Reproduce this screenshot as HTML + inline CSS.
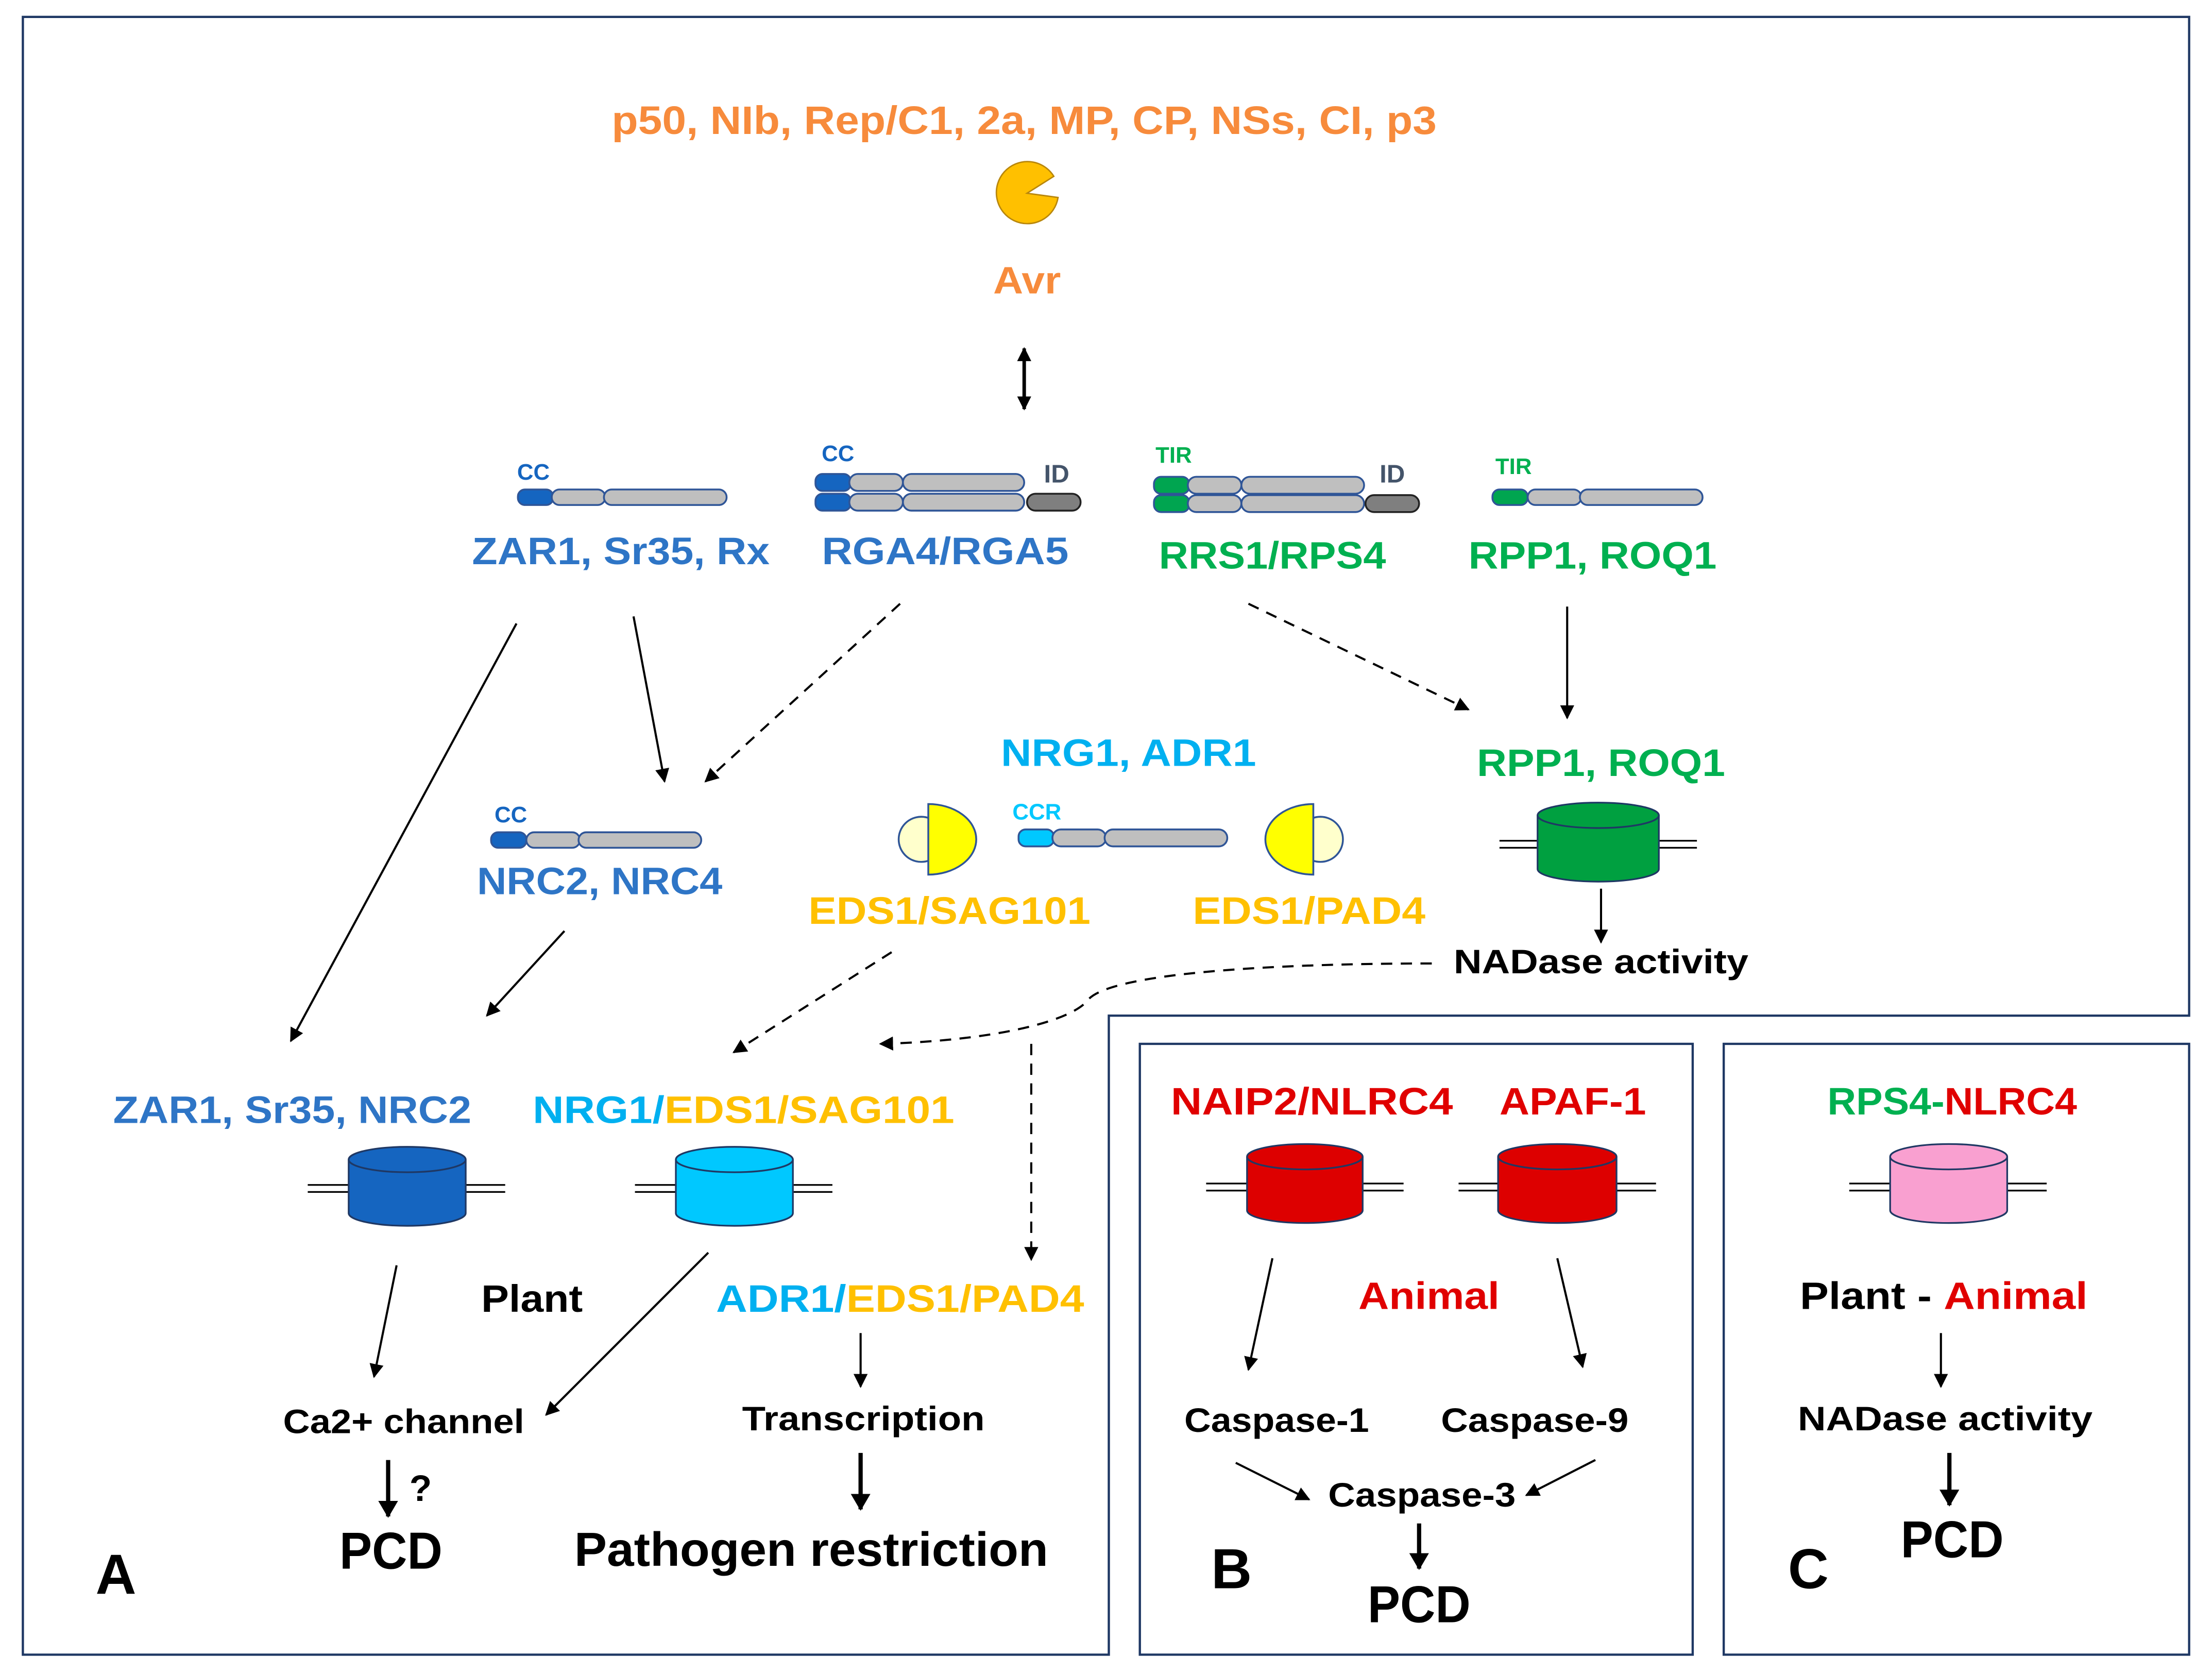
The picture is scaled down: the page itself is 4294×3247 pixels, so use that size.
<!DOCTYPE html>
<html><head><meta charset="utf-8"><style>
html,body{margin:0;padding:0;background:#fff}
svg{display:block}
text{font-family:"Liberation Sans",sans-serif;font-weight:bold;text-anchor:middle}
</style></head><body>
<svg width="4294" height="3247" viewBox="0 0 1568 1186" xmlns="http://www.w3.org/2000/svg">
<defs>
<marker id="ah" markerWidth="10" markerHeight="10" refX="9" refY="5" orient="auto" markerUnits="userSpaceOnUse"><path d="M0,0 L10,5 L0,10 z" fill="#000"/></marker>
<marker id="ahs" markerWidth="10" markerHeight="10" refX="9" refY="5" orient="auto-start-reverse" markerUnits="userSpaceOnUse"><path d="M0,0 L10,5 L0,10 z" fill="#000"/></marker>
<marker id="ahb" markerWidth="14" markerHeight="14" refX="11" refY="7" orient="auto" markerUnits="userSpaceOnUse"><path d="M0,0 L12,7 L0,14 z" fill="#000"/></marker>
</defs>
<rect width="1568" height="1186" fill="#fff"/>
<path d="M16,12 H1552 V720 H786 V1173 H16 Z" fill="none" stroke="#1f3864" stroke-width="1.6"/>
<rect x="808" y="740" width="392" height="433" fill="none" stroke="#1f3864" stroke-width="1.6"/>
<rect x="1222" y="740" width="330" height="433" fill="none" stroke="#1f3864" stroke-width="1.6"/>

<text x="726" y="95" font-size="28" fill="#f78b3c" textLength="585" lengthAdjust="spacingAndGlyphs">p50, NIb, Rep/C1, 2a, MP, CP, NSs, CI, p3</text>
<path d="M728,137 L747,125 A22,22 0 1 0 750,140 Z" fill="#ffc000" stroke="#b8860b" stroke-width="1"/>
<text x="728" y="208" font-size="27" fill="#f78b3c" textLength="48" lengthAdjust="spacingAndGlyphs">Avr</text>
<line x1="726" y1="247" x2="726" y2="290" stroke="#000" stroke-width="2.5" marker-start="url(#ahs)" marker-end="url(#ahs)"/>

<g stroke="#2f5597" stroke-width="1.3">
<rect x="367" y="347" width="25" height="11" rx="5" fill="#1565c0"/>
<rect x="391" y="347" width="38" height="11" rx="5.5" fill="#bfbfbf"/>
<rect x="428" y="347" width="87" height="11" rx="5.5" fill="#bfbfbf"/>
<rect x="578" y="336" width="25" height="12" rx="5" fill="#1565c0"/>
<rect x="602" y="336" width="38" height="12" rx="6" fill="#bfbfbf"/>
<rect x="640" y="336" width="86" height="12" rx="6" fill="#bfbfbf"/>
<rect x="578" y="350" width="25" height="12" rx="5" fill="#1565c0"/>
<rect x="602" y="350" width="38" height="12" rx="6" fill="#bfbfbf"/>
<rect x="640" y="350" width="86" height="12" rx="6" fill="#bfbfbf"/>
<rect x="728" y="350" width="38" height="12" rx="6" fill="#7f7f7f" stroke="#222"/>
<rect x="818" y="338" width="25" height="12" rx="5" fill="#00a550"/>
<rect x="842" y="338" width="38" height="12" rx="6" fill="#bfbfbf"/>
<rect x="880" y="338" width="87" height="12" rx="6" fill="#bfbfbf"/>
<rect x="818" y="351" width="25" height="12" rx="5" fill="#00a550"/>
<rect x="842" y="351" width="38" height="12" rx="6" fill="#bfbfbf"/>
<rect x="880" y="351" width="87" height="12" rx="6" fill="#bfbfbf"/>
<rect x="968" y="351" width="38" height="12" rx="6" fill="#7f7f7f" stroke="#222"/>
<rect x="1058" y="347" width="25" height="11" rx="5" fill="#00a550"/>
<rect x="1083" y="347" width="38" height="11" rx="5.5" fill="#bfbfbf"/>
<rect x="1120" y="347" width="87" height="11" rx="5.5" fill="#bfbfbf"/>
<rect x="348" y="590" width="25" height="11" rx="5" fill="#1565c0"/>
<rect x="373" y="590" width="38" height="11" rx="5.5" fill="#bfbfbf"/>
<rect x="410" y="590" width="87" height="11" rx="5.5" fill="#bfbfbf"/>
<rect x="722" y="588" width="25" height="12" rx="5" fill="#00c8ff"/>
<rect x="746" y="588" width="38" height="12" rx="6" fill="#bfbfbf"/>
<rect x="783" y="588" width="87" height="12" rx="6" fill="#bfbfbf"/>
<!-- EDS1 left -->
<circle cx="653" cy="595" r="16" fill="#ffffcc"/>
<path d="M658,570 A34,25 0 0 1 658,620 Z" fill="#ffff00"/>
<!-- EDS1 right -->
<circle cx="936" cy="595" r="16" fill="#ffffcc"/>
<path d="M931,570 A34,25 0 0 0 931,620 Z" fill="#ffff00"/>
</g>
<text x="378" y="340" font-size="16" fill="#1565c0" font-weight="normal">CC</text>
<text x="594" y="327" font-size="16" fill="#1565c0" font-weight="normal">CC</text>
<text x="749" y="342" font-size="18" fill="#44546a">ID</text>
<text x="832" y="328" font-size="16" fill="#00b050" font-weight="normal">TIR</text>
<text x="987" y="342" font-size="18" fill="#44546a">ID</text>
<text x="1073" y="336" font-size="16" fill="#00b050" font-weight="normal">TIR</text>
<text x="362" y="583" font-size="16" fill="#1565c0" font-weight="normal">CC</text>
<text x="735" y="581" font-size="16" fill="#00c8ff" font-weight="normal">CCR</text>

<g lengthAdjust="spacingAndGlyphs">
<text x="440" y="400" font-size="27" fill="#2e75c6" textLength="211" lengthAdjust="spacingAndGlyphs">ZAR1, Sr35, Rx</text>
<text x="670" y="400" font-size="27" fill="#2e75c6" textLength="175" lengthAdjust="spacingAndGlyphs">RGA4/RGA5</text>
<text x="902" y="403" font-size="27" fill="#00b050" textLength="161" lengthAdjust="spacingAndGlyphs">RRS1/RPS4</text>
<text x="1129" y="403" font-size="27" fill="#00b050" textLength="176" lengthAdjust="spacingAndGlyphs">RPP1, ROQ1</text>
<text x="800" y="543" font-size="27" fill="#00b0f0" textLength="181" lengthAdjust="spacingAndGlyphs">NRG1, ADR1</text>
<text x="1135" y="550" font-size="27" fill="#00b050" textLength="176" lengthAdjust="spacingAndGlyphs">RPP1, ROQ1</text>
<text x="425" y="634" font-size="27" fill="#2e75c6" textLength="174" lengthAdjust="spacingAndGlyphs">NRC2, NRC4</text>
<text x="673" y="655" font-size="27" fill="#ffc000" textLength="200" lengthAdjust="spacingAndGlyphs">EDS1/SAG101</text>
<text x="928" y="655" font-size="27" fill="#ffc000" textLength="165" lengthAdjust="spacingAndGlyphs">EDS1/PAD4</text>
<text x="1135" y="690" font-size="24" fill="#000" textLength="209" lengthAdjust="spacingAndGlyphs">NADase activity</text>
</g>

<g stroke="#000" stroke-width="1.5" fill="none">
<line x1="366" y1="442" x2="206" y2="738" marker-end="url(#ah)"/>
<line x1="449" y1="437" x2="471" y2="554" marker-end="url(#ah)"/>
<line x1="638" y1="428" x2="500" y2="554" stroke-dasharray="8,6" marker-end="url(#ah)"/>
<line x1="885" y1="428" x2="1041" y2="503" stroke-dasharray="8,6" marker-end="url(#ah)"/>
<line x1="1111" y1="430" x2="1111" y2="509" marker-end="url(#ah)"/>
<line x1="1135" y1="630" x2="1135" y2="668" marker-end="url(#ah)"/>
<path d="M1015,683 C900,683 790,690 772,708 C760,725 700,738 624,740" stroke-dasharray="8,6" marker-end="url(#ah)"/>
<line x1="632" y1="675" x2="520" y2="746" stroke-dasharray="8,6" marker-end="url(#ah)"/>
<line x1="731" y1="740" x2="731" y2="893" stroke-dasharray="8,6" marker-end="url(#ah)"/>
<line x1="400" y1="660" x2="345" y2="720" marker-end="url(#ah)"/>
<line x1="281" y1="897" x2="265" y2="976" marker-end="url(#ah)"/>
<line x1="502" y1="888" x2="387" y2="1003" marker-end="url(#ah)"/>
<line x1="610" y1="945" x2="610" y2="983" marker-end="url(#ah)"/>
<line x1="902" y1="892" x2="885" y2="971" marker-end="url(#ah)"/>
<line x1="1104" y1="892" x2="1122" y2="969" marker-end="url(#ah)"/>
<line x1="876" y1="1037" x2="928" y2="1063" marker-end="url(#ah)"/>
<line x1="1131" y1="1035" x2="1082" y2="1060" marker-end="url(#ah)"/>
<line x1="1376" y1="945" x2="1376" y2="983" marker-end="url(#ah)"/>
<line x1="275" y1="1035" x2="275" y2="1075" stroke-width="3" marker-end="url(#ahb)"/>
<line x1="610" y1="1030" x2="610" y2="1070" stroke-width="3" marker-end="url(#ahb)"/>
<line x1="1006" y1="1080" x2="1006" y2="1112" stroke-width="3" marker-end="url(#ahb)"/>
<line x1="1382" y1="1030" x2="1382" y2="1067" stroke-width="3" marker-end="url(#ahb)"/>
</g>

<g stroke="#1f3864" stroke-width="1.2">
<g>
<line x1="1063" y1="596" x2="1092" y2="596" stroke="#000"/><line x1="1063" y1="601" x2="1092" y2="601" stroke="#000"/>
<line x1="1174" y1="596" x2="1203" y2="596" stroke="#000"/><line x1="1174" y1="601" x2="1203" y2="601" stroke="#000"/>
<path d="M1090,578 V616 A43,9 0 0 0 1176,616 V578" fill="#00a040"/>
<ellipse cx="1133" cy="578" rx="43" ry="9" fill="#00a040"/>
</g>
<g>
<line x1="218" y1="840" x2="249" y2="840" stroke="#000"/><line x1="218" y1="845" x2="249" y2="845" stroke="#000"/>
<line x1="328" y1="840" x2="358" y2="840" stroke="#000"/><line x1="328" y1="845" x2="358" y2="845" stroke="#000"/>
<path d="M247,822 V860 A41.5,9 0 0 0 330,860 V822" fill="#1565c0"/>
<ellipse cx="288.5" cy="822" rx="41.5" ry="9" fill="#1565c0"/>
</g>
<g>
<line x1="450" y1="840" x2="481" y2="840" stroke="#000"/><line x1="450" y1="845" x2="481" y2="845" stroke="#000"/>
<line x1="560" y1="840" x2="590" y2="840" stroke="#000"/><line x1="560" y1="845" x2="590" y2="845" stroke="#000"/>
<path d="M479,822 V860 A41.5,9 0 0 0 562,860 V822" fill="#00c8ff"/>
<ellipse cx="520.5" cy="822" rx="41.5" ry="9" fill="#00c8ff"/>
</g>
<g>
<line x1="855" y1="839" x2="886" y2="839" stroke="#000"/><line x1="855" y1="844" x2="886" y2="844" stroke="#000"/>
<line x1="964" y1="839" x2="995" y2="839" stroke="#000"/><line x1="964" y1="844" x2="995" y2="844" stroke="#000"/>
<path d="M884,820 V858 A41,9 0 0 0 966,858 V820" fill="#dd0000"/>
<ellipse cx="925" cy="820" rx="41" ry="9" fill="#dd0000"/>
</g>
<g>
<line x1="1034" y1="839" x2="1064" y2="839" stroke="#000"/><line x1="1034" y1="844" x2="1064" y2="844" stroke="#000"/>
<line x1="1144" y1="839" x2="1174" y2="839" stroke="#000"/><line x1="1144" y1="844" x2="1174" y2="844" stroke="#000"/>
<path d="M1062,820 V858 A42,9 0 0 0 1146,858 V820" fill="#dd0000"/>
<ellipse cx="1104" cy="820" rx="42" ry="9" fill="#dd0000"/>
</g>
<g>
<line x1="1311" y1="839" x2="1342" y2="839" stroke="#000"/><line x1="1311" y1="844" x2="1342" y2="844" stroke="#000"/>
<line x1="1421" y1="839" x2="1451" y2="839" stroke="#000"/><line x1="1421" y1="844" x2="1451" y2="844" stroke="#000"/>
<path d="M1340,820 V858 A41.5,9 0 0 0 1423,858 V820" fill="#f9a0d0"/>
<ellipse cx="1381.5" cy="820" rx="41.5" ry="9" fill="#f9a0d0"/>
</g>
</g>

<text x="207" y="796" font-size="27" fill="#2e75c6" textLength="254" lengthAdjust="spacingAndGlyphs">ZAR1, Sr35, NRC2</text>
<text x="527" y="796" font-size="27" textLength="299" lengthAdjust="spacingAndGlyphs"><tspan fill="#00b0f0">NRG1/</tspan><tspan fill="#ffc000">EDS1/SAG101</tspan></text>
<text x="377" y="930" font-size="27" fill="#000" textLength="72" lengthAdjust="spacingAndGlyphs">Plant</text>
<text x="638" y="930" font-size="27" textLength="261" lengthAdjust="spacingAndGlyphs"><tspan fill="#00b0f0">ADR1/</tspan><tspan fill="#ffc000">EDS1/PAD4</tspan></text>
<text x="286" y="1016" font-size="24" fill="#000" textLength="171" lengthAdjust="spacingAndGlyphs">Ca2+ channel</text>
<text x="298" y="1064" font-size="26" fill="#000">?</text>
<text x="277" y="1112" font-size="37" fill="#000" textLength="73" lengthAdjust="spacingAndGlyphs">PCD</text>
<text x="612" y="1014" font-size="24" fill="#000" textLength="172" lengthAdjust="spacingAndGlyphs">Transcription</text>
<text x="575" y="1110" font-size="34" fill="#000" textLength="336" lengthAdjust="spacingAndGlyphs">Pathogen restriction</text>
<text x="82" y="1130" font-size="40" fill="#000">A</text>

<text x="930" y="790" font-size="27" fill="#e00000" textLength="200" lengthAdjust="spacingAndGlyphs">NAIP2/NLRC4</text>
<text x="1115" y="790" font-size="27" fill="#e00000" textLength="104" lengthAdjust="spacingAndGlyphs">APAF-1</text>
<text x="1013" y="928" font-size="27" fill="#e00000" textLength="100" lengthAdjust="spacingAndGlyphs">Animal</text>
<text x="905" y="1015" font-size="24" fill="#000" textLength="131" lengthAdjust="spacingAndGlyphs">Caspase-1</text>
<text x="1088" y="1015" font-size="24" fill="#000" textLength="133" lengthAdjust="spacingAndGlyphs">Caspase-9</text>
<text x="1008" y="1068" font-size="24" fill="#000" textLength="133" lengthAdjust="spacingAndGlyphs">Caspase-3</text>
<text x="1006" y="1150" font-size="37" fill="#000" textLength="73" lengthAdjust="spacingAndGlyphs">PCD</text>
<text x="873" y="1126" font-size="40" fill="#000">B</text>

<text x="1384" y="790" font-size="27" textLength="177" lengthAdjust="spacingAndGlyphs"><tspan fill="#00b050">RPS4-</tspan><tspan fill="#e00000">NLRC4</tspan></text>
<text x="1378" y="928" font-size="27" textLength="204" lengthAdjust="spacingAndGlyphs"><tspan fill="#000">Plant - </tspan><tspan fill="#e00000">Animal</tspan></text>
<text x="1379" y="1014" font-size="24" fill="#000" textLength="209" lengthAdjust="spacingAndGlyphs">NADase activity</text>
<text x="1384" y="1104" font-size="37" fill="#000" textLength="73" lengthAdjust="spacingAndGlyphs">PCD</text>
<text x="1282" y="1126" font-size="40" fill="#000">C</text>
</svg>
</body></html>
